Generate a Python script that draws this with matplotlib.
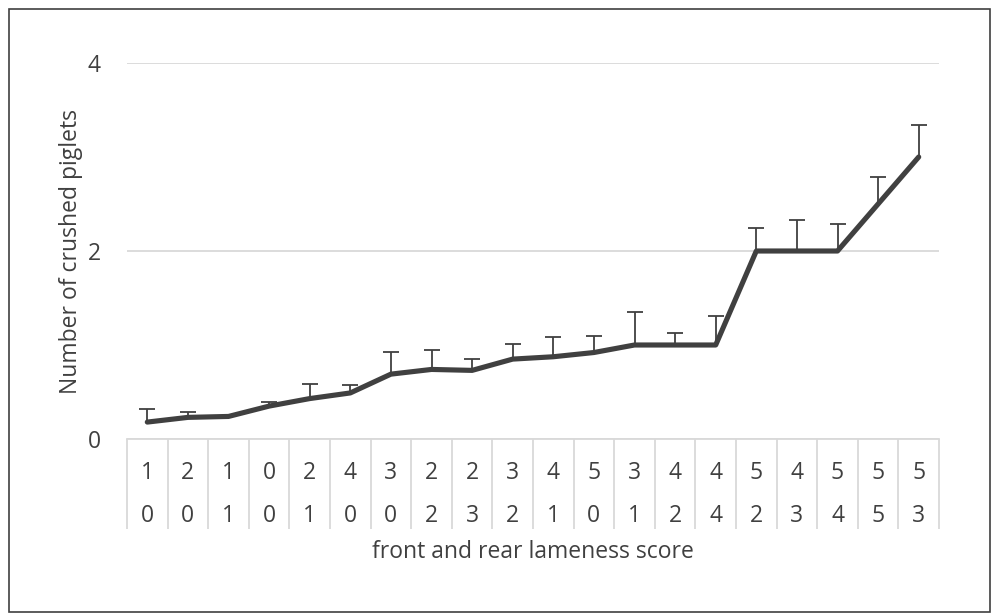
import numpy as np
import matplotlib
matplotlib.use("Agg")
import matplotlib.pyplot as plt
from matplotlib.patches import Rectangle

plt.rcParams['font.family'] = ['Open Sans', 'DejaVu Sans']

# front / rear lameness score per group
front = [1, 2, 1, 0, 2, 4, 3, 2, 2, 3, 4, 5, 3, 4, 4, 5, 4, 5, 5, 5]
rear = [0, 0, 1, 0, 1, 0, 0, 2, 3, 2, 1, 0, 1, 2, 4, 2, 3, 4, 5, 3]

# mean number of crushed piglets and upper error
means = [0.18, 0.23, 0.24, 0.35, 0.43, 0.49, 0.69, 0.74, 0.73, 0.85,
         0.875, 0.92, 1.0, 1.0, 1.0, 2.0, 2.0, 2.0, 2.5, 3.0]
errs = [0.14, 0.06, 0.0, 0.04, 0.15, 0.08, 0.24, 0.21, 0.12, 0.16,
        0.215, 0.18, 0.35, 0.13, 0.31, 0.25, 0.33, 0.29, 0.29, 0.34]

txt = '#404040'
grid = '#d9d9d9'
fs = 16.5

fig = plt.figure(figsize=(9.92, 6.14), dpi=100)
ax = fig.add_axes([127/992, 1-439/614, (939-127)/992, (439-63)/614])

x = np.arange(len(means))
tops = np.array(means) + np.array(errs)
# upper error bars only: stem + top cap
ax.vlines(x, means, tops, color='#404040', lw=1.3, zorder=2)
has_err = np.array(errs) > 0
ax.plot(x[has_err], tops[has_err], ls='none', marker='_', ms=11.5, mew=1.3,
        color='#404040', zorder=2)
ax.plot(x, means, color='#404040', lw=3.7, solid_capstyle='round',
        solid_joinstyle='round', zorder=3)

ax.set_xlim(-0.5, len(means)-0.5)
ax.set_ylim(0, 4)
ax.set_yticks([0, 2, 4])
ax.yaxis.grid(True, color=grid, lw=1.3)
ax.set_axisbelow(True)
ax.tick_params(axis='y', length=0, pad=19, labelsize=fs, labelcolor=txt)

# category table below the axis
ax.set_xticks(x)
ax.set_xticklabels([f"{a}\n{b}" for a, b in zip(front, rear)], linespacing=2.06)
ax.tick_params(axis='x', which='major', length=0, pad=16, labelsize=fs, labelcolor=txt)
ax.set_xticks(np.arange(-0.5, len(means)), minor=True)
ax.tick_params(axis='x', which='minor', length=65, width=1.3, color=grid)

for s in ['top', 'right', 'left']:
    ax.spines[s].set_visible(False)
ax.spines['bottom'].set_color(grid)
ax.spines['bottom'].set_linewidth(1.3)

ax.set_xlabel("front and rear lameness score", fontsize=fs, color=txt, labelpad=4)
ax.set_ylabel("Number of crushed piglets", fontsize=fs, color=txt, labelpad=3)

fig.patches.append(Rectangle((9/992, 1-612/614), (990-9)/992, (612-9)/614,
                             transform=fig.transFigure, fill=False,
                             edgecolor='#404040', lw=1.2))

fig.savefig("out.png", dpi=100)
